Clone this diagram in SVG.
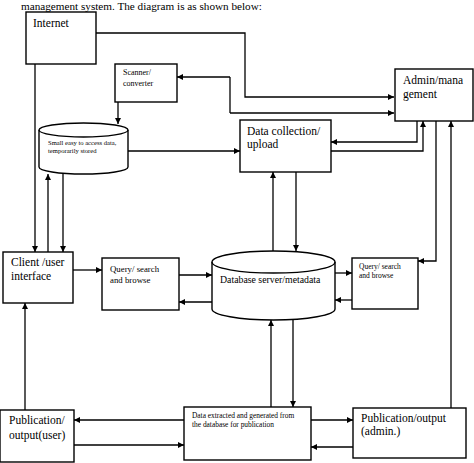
<svg xmlns="http://www.w3.org/2000/svg" width="474" height="463" viewBox="0 0 474 463">
<style>
.box{fill:#fff;stroke:#000;stroke-width:1.4}
.ln{fill:none;stroke:#000;stroke-width:1.3}
.a{marker-end:url(#ah)}
.t{font-family:"Liberation Serif","Times New Roman",serif;fill:#000}
</style>
<defs>
<marker id="ah" viewBox="0 0 8 8" refX="8" refY="4" markerWidth="6" markerHeight="6" markerUnits="userSpaceOnUse" orient="auto">
<path d="M0,0 L8,4 L0,8 z" fill="#000"/>
</marker>
</defs>
<rect width="474" height="463" fill="#fff"/>
<text class="t" x="21" y="10" font-size="11.2">management system. The diagram is as shown below:</text>

<g id="connectors">
<path class="ln a" d="M96,33 H245 V97 H394"/>
<path class="ln" d="M230,77 V113"/>
<path class="ln a" d="M230,77 H177"/>
<path class="ln a" d="M230,113 H394"/>
<path class="ln a" d="M118,102 V124"/>
<path class="ln a" d="M128,151 H240"/>
<path class="ln a" d="M417,121 V142 H331"/>
<path class="ln a" d="M331,151 H423 V121"/>
<path class="ln a" d="M436,121 V261 H418"/>
<path class="ln a" d="M451,408 V121"/>
<path class="ln a" d="M273,251 V172"/>
<path class="ln a" d="M296,172 V251"/>
<path class="ln a" d="M35,64 V252"/>
<path class="ln a" d="M48,252 V174"/>
<path class="ln a" d="M63,174 V252"/>
<path class="ln a" d="M73,270 H102"/>
<path class="ln a" d="M179,275 H212"/>
<path class="ln a" d="M212,302 H179"/>
<path class="ln a" d="M335,273 H352"/>
<path class="ln a" d="M352,300 H335"/>
<path class="ln a" d="M25,410 V303"/>
<path class="ln a" d="M184,420 H74"/>
<path class="ln a" d="M74,445 H184"/>
<path class="ln a" d="M271,407 V320"/>
<path class="ln a" d="M293,318 V407"/>
<path class="ln a" d="M311,420 H353"/>
<path class="ln a" d="M353,447 H311"/>
</g>

<g id="internet">
<rect class="box" x="26" y="12" width="70" height="52"/>
<text class="t" x="33" y="27" font-size="11.5">Internet</text>
</g>

<g id="admin">
<rect class="box" x="395" y="69" width="78" height="52"/>
<text class="t" x="403" y="84" font-size="11.5">Admin/mana</text>
<text class="t" x="403" y="98" font-size="11.5">gement</text>
</g>

<g id="scanner">
<rect class="box" x="115" y="64" width="62" height="38"/>
<text class="t" x="123" y="75" font-size="8">Scanner/</text>
<text class="t" x="123" y="86" font-size="8">converter</text>
</g>

<g id="temp-storage">
<path class="box" d="M39,130 A44.5,7 0 0 1 128,130 V167 A44.5,7 0 0 1 39,167 Z"/>
<path class="ln" d="M39,130 A44.5,7 0 0 0 128,130"/>
<text class="t" x="48" y="145" font-size="6.6">Small easy to access data,</text>
<text class="t" x="48" y="153" font-size="6.6">temporarily stored</text>
</g>

<g id="data-collection">
<rect class="box" x="240" y="120" width="91" height="52"/>
<text class="t" x="247" y="135" font-size="11.5">Data collection/</text>
<text class="t" x="247" y="148" font-size="11.5">upload</text>
</g>

<g id="client">
<rect class="box" x="3" y="252" width="70" height="51"/>
<text class="t" x="11" y="266" font-size="11.5">Client /user</text>
<text class="t" x="11" y="280" font-size="11.5">interface</text>
</g>

<g id="query-user">
<rect class="box" x="102" y="258" width="77" height="52"/>
<text class="t" x="110" y="272" font-size="8.8">Query/ search</text>
<text class="t" x="110" y="283" font-size="8.8">and browse</text>
</g>

<g id="database">
<path class="box" d="M212,262 A61.5,11 0 0 1 335,262 V309 A61.5,11 0 0 1 212,309 Z"/>
<path class="ln" d="M212,262 A61.5,11 0 0 0 335,262"/>
<text class="t" x="220" y="283" font-size="9.8">Database server/metadata</text>
</g>

<g id="query-admin">
<rect class="box" x="352" y="258" width="66" height="51"/>
<text class="t" x="359" y="269" font-size="7.5">Query/ search</text>
<text class="t" x="359" y="278" font-size="7.5">and browse</text>
</g>

<g id="pub-user">
<rect class="box" x="0" y="410" width="74" height="52"/>
<text class="t" x="9" y="424" font-size="11.5">Publication/</text>
<text class="t" x="9" y="439" font-size="11.5">output(user)</text>
</g>

<g id="data-extracted">
<rect class="box" x="184" y="407" width="127" height="53"/>
<text class="t" x="192" y="418" font-size="7.4">Data extracted and generated from</text>
<text class="t" x="192" y="427" font-size="7.4">the database for publication</text>
</g>

<g id="pub-admin">
<rect class="box" x="353" y="408" width="113" height="50"/>
<text class="t" x="361" y="422" font-size="11.5">Publication/output</text>
<text class="t" x="361" y="435" font-size="11.5">(admin.)</text>
</g>
</svg>
